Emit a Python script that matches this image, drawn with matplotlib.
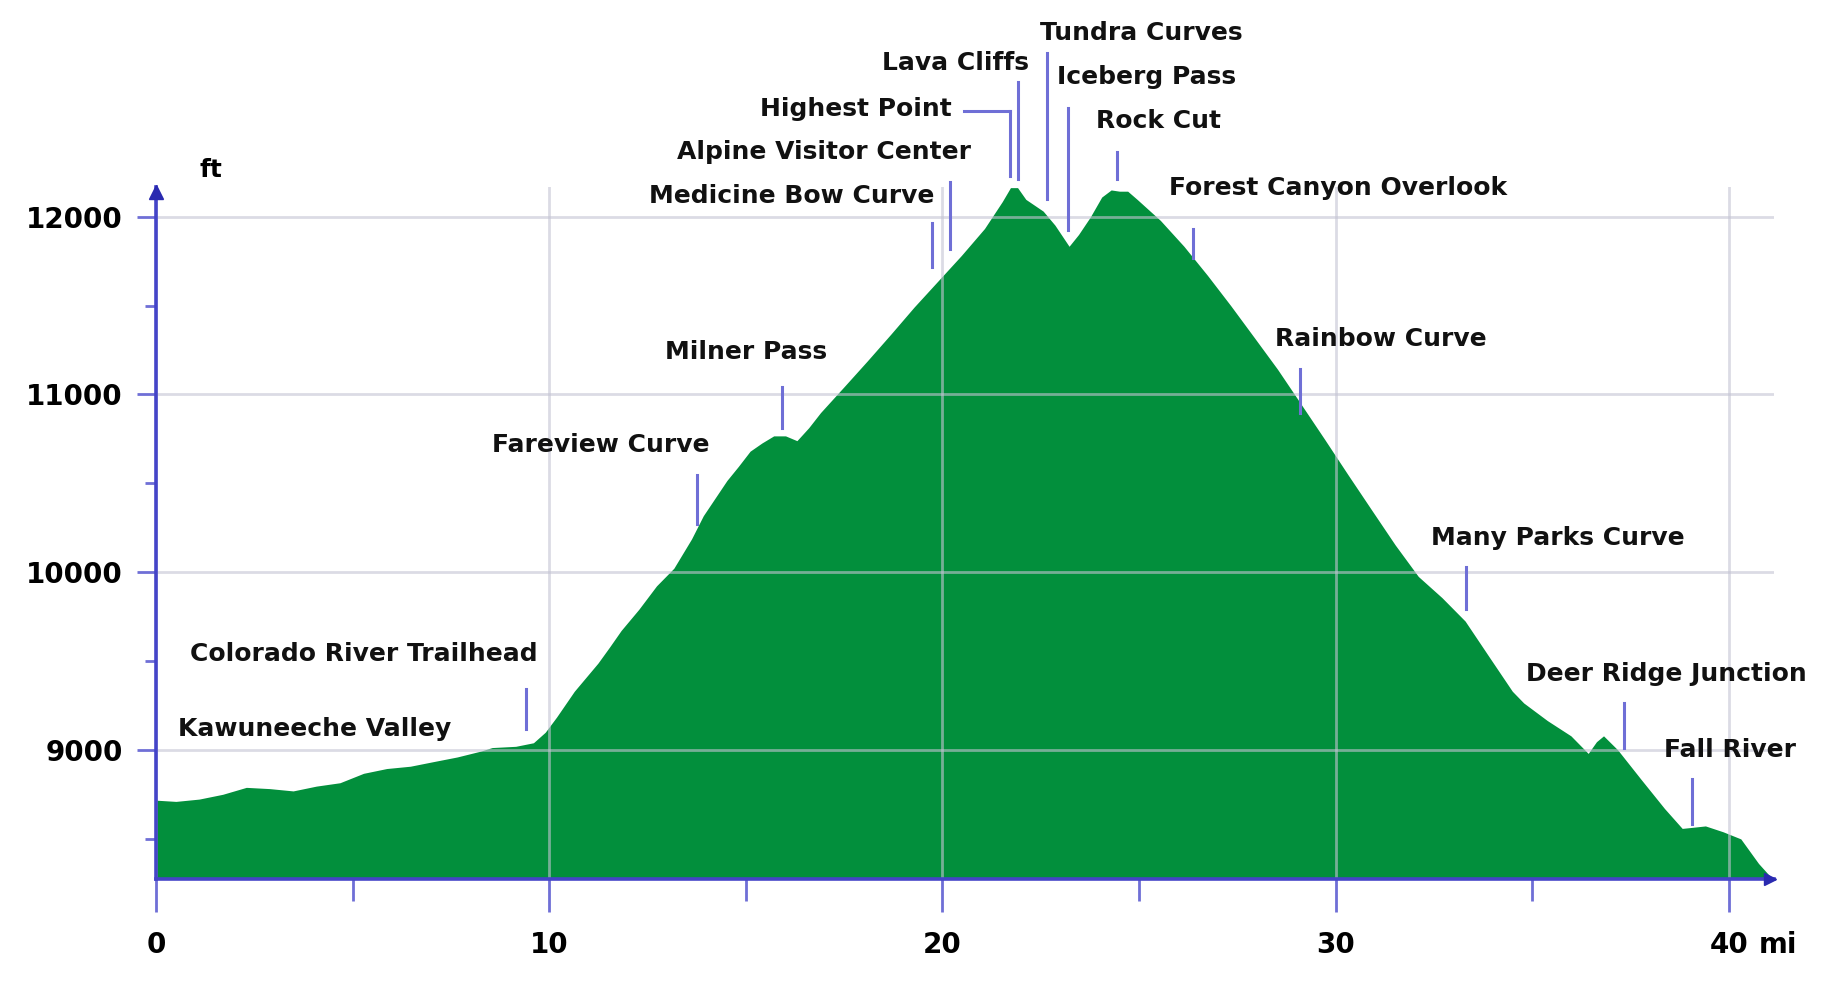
import matplotlib.pyplot as plt
from matplotlib.ticker import FixedLocator

# ── Elevation profile (miles from west entrance, feet) ──
miles = [0.00, 0.51, 1.10, 1.70, 2.30, 2.89, 3.49, 4.08, 4.68, 5.28, 5.87, 6.47,
         7.06, 7.66, 8.26, 8.55, 9.15, 9.60, 9.90, 10.19, 10.64, 10.94, 11.24,
         11.54, 11.83, 12.28, 12.73, 13.17, 13.62, 13.92, 14.22, 14.52, 14.81,
         15.11, 15.41, 15.71, 16.01, 16.30, 16.60, 16.90, 17.50, 18.09, 18.69,
         19.28, 19.88, 20.48, 21.07, 21.52, 21.73, 21.91, 22.12, 22.56, 22.86,
         23.22, 23.46, 23.76, 24.05, 24.29, 24.50, 24.71, 24.95, 25.54, 26.14,
         26.74, 27.33, 27.93, 28.52, 29.12, 29.72, 30.31, 30.91, 31.51, 32.10,
         32.70, 33.29, 33.89, 34.49, 34.78, 35.38, 35.98, 36.42, 36.63, 36.81,
         37.17, 37.76, 38.36, 38.81, 39.11, 39.40, 39.85, 40.30, 40.75, 41.10]
elev_ft = [8717, 8710, 8723, 8750, 8789, 8782, 8769, 8796, 8815, 8868, 8895, 8908,
           8934, 8960, 8993, 9013, 9020, 9040, 9099, 9185, 9330, 9409, 9488,
           9580, 9672, 9791, 9923, 10022, 10187, 10318, 10417, 10516, 10595,
           10681, 10727, 10767, 10767, 10740, 10813, 10898, 11044, 11189, 11340,
           11492, 11637, 11782, 11934, 12085, 12164, 12164, 12098, 12032, 11953,
           11834, 11900, 11999, 12111, 12151, 12144, 12144, 12098, 11980, 11834,
           11670, 11500, 11320, 11142, 10945, 10747, 10549, 10351, 10154, 9976,
           9857, 9725, 9527, 9330, 9264, 9165, 9079, 8980, 9046, 9079,
           9000, 8835, 8670, 8558, 8565, 8572, 8539, 8499, 8361, 8275]

# ── Landmarks ──
names = ["Kawuneeche Valley", "Colorado River Trailhead", "Fareview Curve",
         "Milner Pass", "Medicine Bow Curve", "Alpine Visitor Center",
         "Highest Point", "Lava Cliffs", "Tundra Curves", "Iceberg Pass",
         "Rock Cut", "Forest Canyon Overlook", "Rainbow Curve",
         "Many Parks Curve", "Deer Ridge Junction", "Fall River"]
label_mi = [0.57, 0.86, 8.55, 12.94, 19.79, 20.72, 20.24, 22.21, 22.47, 22.92,
            23.90, 25.75, 28.46, 32.43, 34.84, 38.36]
label_ft = [9119, 9541, 10714, 11241, 12118, 12362, 12606, 12863, 13034, 12784,
            12540, 12164, 11314, 10193, 9428, 9000]
label_ha = ["left", "left", "left", "left", "right", "right", "right", "right",
            "left", "left", "left", "left", "left", "left", "left", "left"]

# marker lines: mile, bottom ft, top ft
mark_mi = [9.42, 13.77, 15.92, 19.73, 20.18, 21.73, 21.91, 22.65, 23.19, 24.44,
           26.38, 29.09, 33.32, 37.32, 39.05]
mark_lo = [9119, 10272, 10813, 11716, 11821, 12230, 12210, 12098, 11927, 12210,
           11769, 10898, 9791, 9013, 8585]
mark_hi = [9343, 10549, 11044, 11966, 12197, 12593, 12758, 12923, 12613, 12362,
           11934, 11142, 10028, 9264, 8835]
highest_hook_mi = 20.54

x_major = [0, 10, 20, 30, 40]
x_minor = [5, 15, 25, 35]
y_major = [9000, 10000, 11000, 12000]
y_minor = [8500, 9500, 10500, 11500]

GREEN = "#028f3c"
BLUE = "#4444c8"
MARK = "#6f6fd6"
GRID = "#c4c4d4"

plt.rcParams["font.family"] = ["DejaVu Sans"]

fig = plt.figure(figsize=(18.38, 9.83), dpi=100)
ax = fig.add_axes([0.0848, 0.1061, 0.8805, 0.7032])
ax.set_xlim(0, 41.15)
ax.set_ylim(8275, 12165)

ax.fill_between(miles, elev_ft, 8275, color=GREEN, lw=0, zorder=2)

# grid on top of the fill, semi transparent
for x in x_major:
    ax.axvline(x, color=GRID, lw=2, alpha=0.6, zorder=3)
for y in y_major:
    ax.axhline(y, color=GRID, lw=2, alpha=0.6, zorder=3)

for s in ["top", "right"]:
    ax.spines[s].set_visible(False)
for s in ["left", "bottom"]:
    ax.spines[s].set_color(BLUE)
    ax.spines[s].set_linewidth(2.6)
    ax.spines[s].set_zorder(5)

ax.xaxis.set_major_locator(FixedLocator(x_major))
ax.xaxis.set_minor_locator(FixedLocator(x_minor))
ax.yaxis.set_major_locator(FixedLocator(y_major))
ax.yaxis.set_minor_locator(FixedLocator(y_minor))
ax.set_xticklabels([str(v) for v in x_major])
ax.set_yticklabels([str(v) for v in y_major])

ax.tick_params(axis="x", which="major", length=24, width=2, color=MARK,
               pad=14, labelsize=20)
ax.tick_params(axis="x", which="minor", length=16, width=2, color=MARK)
ax.tick_params(axis="y", which="major", length=14, width=2, color=MARK,
               pad=10, labelsize=20)
ax.tick_params(axis="y", which="minor", length=8, width=2, color=MARK)
for t in ax.get_xticklabels() + ax.get_yticklabels():
    t.set_fontweight("bold")

# axis arrows
ax.plot([0], [12140], marker="^", color="#2a2ab0", markersize=10,
        clip_on=False, zorder=6)
ax.plot([41.05], [8275], marker=">", color="#2a2ab0", markersize=9,
        clip_on=False, zorder=6)

# unit labels
ax.text(1.1, 12263, "ft", fontsize=18, fontweight="bold", va="center",
        clip_on=False)
ax.annotate("mi", xy=(40.75, 0), xycoords=("data", "axes fraction"),
            xytext=(0, -38), textcoords="offset points", ha="left", va="top",
            fontsize=20, fontweight="bold")

# landmark labels
for name, lx, ly, ha in zip(names, label_mi, label_ft, label_ha):
    ax.text(lx, ly, name, ha=ha, va="center", fontsize=18, fontweight="bold",
            color="#111111", clip_on=False, zorder=7)

for mx, lo, hi in zip(mark_mi, mark_lo, mark_hi):
    ax.plot([mx, mx], [lo, hi], color=MARK, lw=2.2, clip_on=False, zorder=6)
# elbow for "Highest Point"
ax.plot([highest_hook_mi, 21.73], [12593, 12593], color=MARK, lw=2.2,
        clip_on=False, zorder=6)

fig.savefig("out.png", dpi=100, facecolor="white")
